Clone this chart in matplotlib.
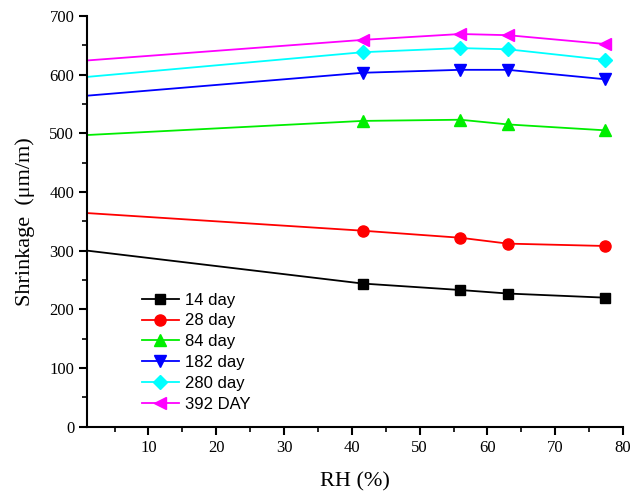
import matplotlib.pyplot as plt
from matplotlib.ticker import MultipleLocator

rh = [1, 41.6, 56, 63, 77.3]
labels = ["14 day", "28 day", "84 day", "182 day", "280 day", "392 DAY"]
d14 = [300, 244, 233, 227, 220]
d28 = [364, 334, 322, 312, 308]
d84 = [497, 521, 523, 515, 505]
d182 = [564, 603, 608, 608, 592]
d280 = [596, 638, 645, 643, 625]
d392 = [624, 659, 669, 667, 652]

series = [d14, d28, d84, d182, d280, d392]
colors = ["black", "red", "#00ee00", "blue", "cyan", "magenta"]
markers = ["s", "o", "^", "v", "D", "<"]
msizes = [7, 8, 8.5, 8.5, 7, 8.5]

fig = plt.figure(figsize=(6.43, 4.94), dpi=100)
ax = fig.add_axes([0.136, 0.136, 0.833, 0.832])

for ys, c, m, ms, lab in zip(series, colors, markers, msizes, labels):
    # line over all points, markers hidden at the axis edge like the original
    ax.plot(rh, ys, color=c, linewidth=1.3)
    ax.plot(rh[1:], ys[1:], color=c, marker=m, markersize=ms, linestyle="none")
    ax.plot([], [], color=c, marker=m, markersize=ms, linewidth=1.3, label=lab)

ax.set_xlim(1, 80)
ax.set_ylim(0, 700)
ax.xaxis.set_major_locator(MultipleLocator(10))
ax.xaxis.set_minor_locator(MultipleLocator(5))
ax.yaxis.set_major_locator(MultipleLocator(100))
ax.yaxis.set_minor_locator(MultipleLocator(50))
ax.spines["top"].set_visible(False)
ax.spines["right"].set_visible(False)
ax.spines["left"].set_linewidth(1.5)
ax.spines["bottom"].set_linewidth(1.5)
ax.tick_params(which="major", direction="out", length=6, width=1.5)
ax.tick_params(which="minor", direction="out", length=3.5, width=1.2)
for t in ax.get_xticklabels() + ax.get_yticklabels():
    t.set_fontfamily("Liberation Serif")
    t.set_fontsize(12)

ax.set_xlabel("RH (%)", fontfamily="Liberation Serif", fontsize=16, labelpad=12)
ax.set_ylabel("Shrinkage  (\u03bcm/m)", fontfamily="Liberation Serif", fontsize=16, labelpad=10)

ax.legend(loc="upper left", bbox_to_anchor=(0.08, 0.355), frameon=False,
          prop={"family": "Liberation Sans", "size": 12}, handlelength=2.2,
          handletextpad=0.4, labelspacing=0.35, borderpad=0.2)

fig.savefig("out.png", dpi=100)
